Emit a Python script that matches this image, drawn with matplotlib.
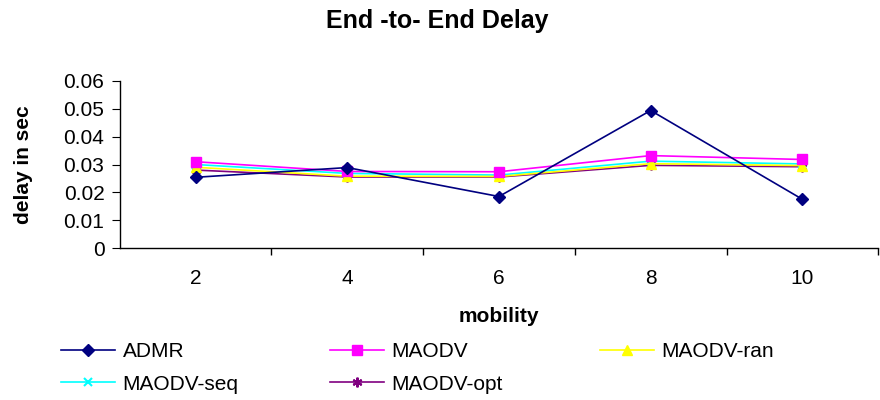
import matplotlib.pyplot as plt
import numpy as np
from matplotlib.ticker import FixedLocator, FuncFormatter

plt.rcParams['font.family'] = ['Liberation Sans', 'DejaVu Sans']

mobility = ['2', '4', '6', '8', '10']
admr = [0.0254, 0.0289, 0.0185, 0.0494, 0.0175]
maodv = [0.0310, 0.0275, 0.0274, 0.0332, 0.0318]
maodv_ran = [0.0290, 0.0258, 0.0257, 0.0303, 0.0296]
maodv_seq = [0.0300, 0.0268, 0.0262, 0.0312, 0.0302]
maodv_opt = [0.0280, 0.0255, 0.0255, 0.0297, 0.0292]

series = [
    ('ADMR', admr, '#000080', 'D', 6.5),
    ('MAODV', maodv, '#FF00FF', 's', 7),
    ('MAODV-ran', maodv_ran, '#FFFF00', '^', 7.5),
    ('MAODV-seq', maodv_seq, '#00FFFF', 'x', 6),
    ('MAODV-opt', maodv_opt, '#800080', (6, 2, 0), 7),
]

fig = plt.figure(figsize=(8.8, 4), dpi=100)
ax = fig.add_axes([0.136, 0.38, 0.862, 0.4175])

x = np.arange(len(mobility))
lines = {}
# draw in reverse so ADMR sits on top
for name, vals, col, mk, ms in reversed(series):
    ln, = ax.plot(x, vals, color=col, marker=mk, markersize=ms, linewidth=1.2,
                  markeredgewidth=1.5 if mk in ('x', (6, 2, 0)) else 1,
                  markeredgecolor=col, label=name)
    lines[name] = ln

ax.set_xlim(-0.5, 4.5)
ax.set_ylim(0, 0.06)
ax.set_xticks(x)
ax.set_xticklabels(mobility)
ax.xaxis.set_minor_locator(FixedLocator(np.arange(0.5, 4.6, 1.0)))
ax.tick_params(axis='x', which='major', length=0, pad=15, labelsize=15)
ax.tick_params(axis='x', which='minor', length=5, direction='out', width=1)
ax.set_yticks(np.arange(0, 0.061, 0.01))
ax.yaxis.set_major_formatter(FuncFormatter(lambda v, p: '0' if v == 0 else f'{v:.2f}'))
ax.tick_params(axis='y', length=6, direction='out', labelsize=15, pad=5)

for s in ['top', 'right']:
    ax.spines[s].set_visible(False)
for s in ['left', 'bottom']:
    ax.spines[s].set_linewidth(1)

ax.set_xlabel('mobility', fontsize=15, fontweight='bold', labelpad=14)
ax.set_ylabel('delay in sec', fontsize=15, fontweight='bold', labelpad=22)
fig.text(0.497, 0.948, 'End -to- End Delay', fontsize=18, fontweight='bold',
         ha='center', va='center')

# legend laid out as three columns, filled row by row
columns = [(['ADMR', 'MAODV-seq'], 61), (['MAODV', 'MAODV-opt'], 330),
           (['MAODV-ran'], 600)]
for names, px in columns:
    fig.legend([lines[n] for n in names], names, loc='upper left',
               bbox_to_anchor=(px / 880, 0.145), frameon=False, fontsize=15,
               handlelength=2.6, handletextpad=0.35, labelspacing=0.65,
               borderaxespad=0, borderpad=0)

fig.savefig('out.png', dpi=100)
